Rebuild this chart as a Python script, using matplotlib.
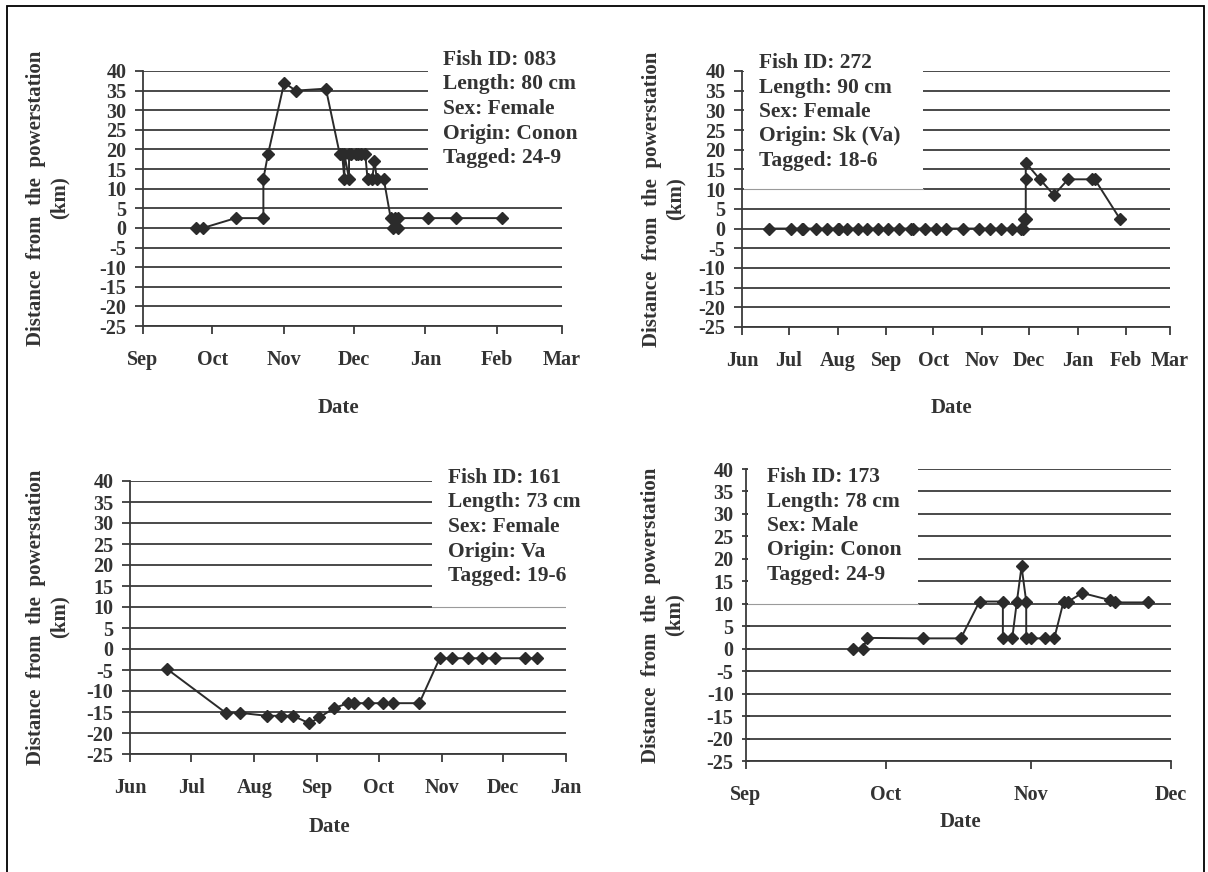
import matplotlib
matplotlib.use('Agg')
import matplotlib.pyplot as plt
import matplotlib.dates as mdates
from matplotlib.patches import Rectangle
import pandas as pd

plt.rcParams['font.family'] = ['Liberation Serif', 'DejaVu Serif']
plt.rcParams['font.weight'] = 'bold'
plt.rcParams['axes.unicode_minus'] = False

# fish 083
dates_083 = ['2002-09-24', '2002-09-27', '2002-10-11', '2002-10-23', '2002-10-23', '2002-10-25',
             '2002-11-01', '2002-11-06', '2002-11-19', '2002-11-25', '2002-11-26', '2002-11-27',
             '2002-11-27', '2002-11-29', '2002-11-29', '2002-11-30', '2002-12-02', '2002-12-03',
             '2002-12-04', '2002-12-06', '2002-12-07', '2002-12-09', '2002-12-10', '2002-12-11',
             '2002-12-14', '2002-12-17', '2002-12-18', '2002-12-19', '2002-12-20', '2002-12-20',
             '2003-01-02', '2003-01-14', '2003-02-03']
dist_083 = [0, 0, 2.5, 2.5, 12.5, 18.8,
            37, 35, 35.5, 18.8, 18.8, 12.5,
            18.8, 12.5, 18.8, 18.8, 18.8, 18.8,
            18.8, 18.8, 12.5, 12.5, 17, 12.5,
            12.5, 2.5, 0, 2.5, 0, 2.5,
            2.5, 2.5, 2.5]

# fish 272
dates_272 = ['2002-06-18', '2002-07-02', '2002-07-09', '2002-07-10', '2002-07-18', '2002-07-25',
             '2002-08-01', '2002-08-02', '2002-08-07', '2002-08-14', '2002-08-20', '2002-08-27',
             '2002-09-02', '2002-09-09', '2002-09-17', '2002-09-18', '2002-09-26', '2002-10-03',
             '2002-10-09', '2002-10-20', '2002-10-30', '2002-11-06', '2002-11-13', '2002-11-20',
             '2002-11-26', '2002-11-27', '2002-11-28', '2002-11-29', '2002-11-29', '2002-11-29',
             '2002-12-08', '2002-12-17', '2002-12-26', '2003-01-10', '2003-01-12', '2003-01-28']
dist_272 = [0, 0, 0, 0, 0, 0,
            0, 0, 0, 0, 0, 0,
            0, 0, 0, 0, 0, 0,
            0, 0, 0, 0, 0, 0,
            0, 0, 2.5, 2.5, 12.5, 16.7,
            12.5, 8.5, 12.5, 12.5, 12.5, 2.5]

# fish 161
dates_161 = ['2002-06-19', '2002-07-18', '2002-07-25', '2002-08-07', '2002-08-14', '2002-08-20',
             '2002-08-28', '2002-09-02', '2002-09-09', '2002-09-16', '2002-09-19', '2002-09-26',
             '2002-10-03', '2002-10-08', '2002-10-21', '2002-10-31', '2002-11-06', '2002-11-14',
             '2002-11-21', '2002-11-27', '2002-12-12', '2002-12-18']
dist_161 = [-4.7, -15.2, -15.2, -15.9, -15.9, -15.9,
            -17.7, -16.3, -14.1, -12.9, -12.9, -12.9,
            -12.9, -12.9, -12.9, -2.2, -2.2, -2.2,
            -2.2, -2.2, -2.2, -2.2]

# fish 173
dates_173 = ['2002-09-24', '2002-09-26', '2002-09-27', '2002-10-09', '2002-10-17', '2002-10-21',
             '2002-10-26', '2002-10-26', '2002-10-28', '2002-10-29', '2002-10-30', '2002-10-31',
             '2002-10-31', '2002-11-01', '2002-11-04', '2002-11-06', '2002-11-08', '2002-11-09',
             '2002-11-12', '2002-11-18', '2002-11-19', '2002-11-26']
dist_173 = [0, 0, 2.4, 2.3, 2.3, 10.5,
            10.5, 2.3, 2.3, 10.5, 18.3, 10.5,
            2.3, 2.3, 2.3, 2.3, 10.5, 10.5,
            12.4, 10.8, 10.3, 10.3]

info_083 = 'Fish ID: 083\nLength: 80 cm\nSex: Female\nOrigin: Conon\nTagged: 24-9'
info_272 = 'Fish ID: 272\nLength: 90 cm\nSex: Female\nOrigin: Sk (Va)\nTagged: 18-6'
info_161 = 'Fish ID: 161\nLength: 73 cm\nSex: Female\nOrigin: Va\nTagged: 19-6'
info_173 = 'Fish ID: 173\nLength: 78 cm\nSex: Male\nOrigin: Conon\nTagged: 24-9'

W, H = 1208, 872
DARK = '#333333'
fig = plt.figure(figsize=(W / 100, H / 100), dpi=100)
fig.patch.set_facecolor('white')

# frame round the figure (bottom edge falls off the picture)
fig.patches.append(Rectangle((6.5 / W, -10 / H), 1197.5 / W, 876 / H, transform=fig.transFigure,
                             fill=False, edgecolor='black', linewidth=1.3))


def px_axes(l, r, t, b):
    return fig.add_axes([l / W, (H - b) / H, (r - l) / W, (b - t) / H])


def panel(ax, dates, dist, xstart, xend, box, thin, tickdir):
    d = pd.to_datetime(dates)
    ax.plot(d, dist, color='#2b2b2b', linewidth=1.4, marker='D', markersize=6.5,
            markerfacecolor='#2b2b2b', markeredgecolor='#2b2b2b', zorder=3)
    ax.set_xlim(pd.Timestamp(xstart), pd.Timestamp(xend))
    ax.set_ylim(-25, 40)
    ax.set_yticks(range(-25, 41, 5))
    ax.xaxis.set_major_locator(mdates.MonthLocator())
    ax.xaxis.set_major_formatter(mdates.DateFormatter('%b'))
    ax.set_axisbelow(True)
    ax.yaxis.grid(True, color='#3a3a3a', linewidth=1.3)
    ax.xaxis.grid(False)
    for s in ['top', 'right']:
        ax.spines[s].set_visible(False)
    for s in ['left', 'bottom']:
        ax.spines[s].set_color('#3a3a3a')
        ax.spines[s].set_linewidth(1.3)
    ax.tick_params(axis='y', direction=tickdir, length=6, width=1.3, color='#3a3a3a',
                   labelsize=14.5, labelcolor=DARK, pad=6)
    ax.tick_params(axis='x', direction='out', length=6, width=1.3, color='#3a3a3a',
                   labelsize=14.5, labelcolor=DARK, pad=11)
    for lab in ax.get_xticklabels() + ax.get_yticklabels():
        lab.set_fontweight('bold')
    # white box behind the info text hides part of the grid
    x0, x1, y0 = box
    tr = ax.get_yaxis_transform()
    ax.add_patch(Rectangle((x0, y0), x1 - x0, 41 - y0, transform=tr, facecolor='white',
                           edgecolor='none', zorder=1, clip_on=False))
    if thin:
        ax.plot([x0, x1], [10, 10], transform=tr, color='#9a9a9a', linewidth=0.8, zorder=1.5)


ax1 = px_axes(143, 562, 71, 326)
panel(ax1, dates_083, dist_083, '2002-09-01', '2003-03-01', (0.68, 1.1, 7), False, 'out')
ax2 = px_axes(742, 1170, 71, 327)
panel(ax2, dates_272, dist_272, '2002-06-01', '2003-03-01', (0.004, 0.423, 10), True, 'out')
ax3 = px_axes(130, 566, 481, 754)
panel(ax3, dates_161, dist_161, '2002-06-01', '2003-01-01', (0.693, 1.0, 10), True, 'out')
ax4 = px_axes(746, 1171, 469, 761)
panel(ax4, dates_173, dist_173, '2002-09-01', '2002-12-01', (0.004, 0.405, 10), True, 'inout')


def ftext(x, y, s, **kw):
    fig.text(x / W, (H - y) / H, s, color=DARK, fontweight='bold', **kw)


# info boxes
for x, y, s in [(443, 109, info_083), (759, 112, info_272), (448, 527, info_161), (767, 526, info_173)]:
    ftext(x, y, s, fontsize=15.5, ha='left', va='center', linespacing=1.3)

# axis titles
ylab = 'Distance  from  the  powerstation\n(km)'
for x, y in [(48, 198), (664, 199), (48, 617), (663, 615)]:
    ftext(x, y, ylab, fontsize=15, rotation=90, ha='center', va='center',
          multialignment='center', linespacing=1.25)
for x, y in [(338, 408), (951, 408), (329, 827), (960, 822)]:
    ftext(x, y, 'Date', fontsize=15, ha='center', va='center')

plt.savefig('out.png', dpi=100)
